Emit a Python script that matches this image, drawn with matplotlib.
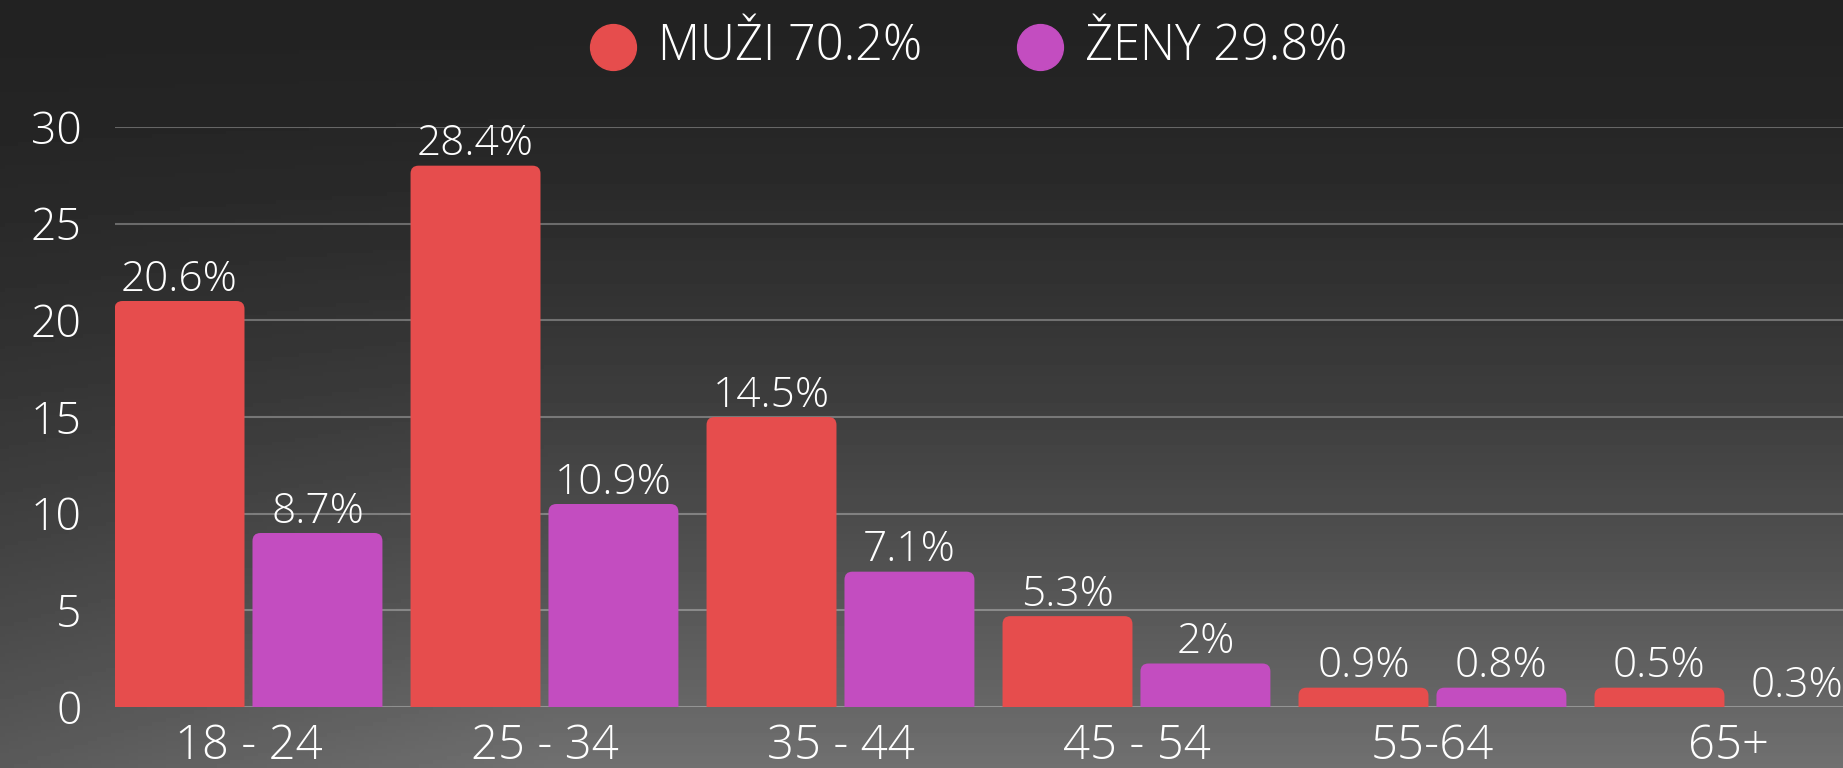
import matplotlib.pyplot as plt
import numpy as np
from matplotlib.lines import Line2D
from matplotlib.patches import FancyBboxPatch

groups = ['18 - 24', '25 - 34', '35 - 44', '45 - 54', '55-64', '65+']
muzi_pct = [20.6, 28.4, 14.5, 5.3, 0.9, 0.5]
zeny_pct = [8.7, 10.9, 7.1, 2, 0.8, 0.3]
# bar heights as they are drawn in the picture
muzi_bars = [21, 28, 15, 4.7, 1, 1]
zeny_bars = [9, 10.5, 7, 2.25, 1, 0]
muzi_total = 70.2
zeny_total = 29.8
y_ticks = [0, 5, 10, 15, 20, 25, 30]

RED = '#e64d4d'
PURPLE = '#c34dc0'

plt.rcParams['font.family'] = ['Open Sans', 'DejaVu Sans']
plt.rcParams['font.weight'] = 'light'

W, H = 1843, 768
fig = plt.figure(figsize=(W / 100, H / 100), dpi=100)

# background: dark at top, lighter grey towards the bottom
bg = fig.add_axes([0, 0, 1, 1], zorder=-5)
yy, xx = np.mgrid[0:1:200j, 0:1:400j]
side = 0.72 + 0.28 * np.clip(xx / 0.3, 0, 1)
val = 34 + 78 * yy ** 1.6 * side
bg.imshow(val, cmap='gray', vmin=0, vmax=255, aspect='auto', extent=[0, 1, 0, 1])
bg.axis('off')

ax = fig.add_axes([115 / W, 1 - 707 / H, 1 - 115 / W, (707 - 127) / H])
ax.patch.set_alpha(0)

x = np.arange(len(groups))
width = 0.439
off = 0.233
px_x = 296.0
px_y = 580.0 / 30
rx = 8 / px_x
ry = 8 / px_y


def rounded_bars(xs, heights, labels, color):
    bars = ax.bar(xs, heights, width, color=color)
    for b, lab in zip(bars, labels):
        h = b.get_height()
        b.set_visible(False)
        if h > 0:
            p = FancyBboxPatch((b.get_x(), -ry), b.get_width(), h + ry,
                               boxstyle=f'round,pad=0,rounding_size={rx}',
                               mutation_aspect=ry / rx, fc=color, ec='none', zorder=3)
            ax.add_patch(p)
        ax.annotate(f'{lab:g}%', (b.get_x() + b.get_width() / 2, h),
                    xytext=(0, 7.5), textcoords='offset points',
                    ha='center', va='baseline', color='white', fontsize=30.5,
                    annotation_clip=False, zorder=4)


rounded_bars(x - off, muzi_bars, muzi_pct, RED)
rounded_bars(x + off, zeny_bars, zeny_pct, PURPLE)

ax.set_xlim(-0.451, 5.387)
ax.set_ylim(0, 30)
ax.set_yticks(y_ticks)
ax.set_xticks(x)
ax.set_xticklabels(groups)
ax.tick_params(axis='both', length=0, colors='white', labelsize=32)
ax.tick_params(axis='y', pad=24)
ax.tick_params(axis='x', pad=11, labelsize=34)
ax.grid(axis='y', color='white', alpha=0.3, linewidth=1.5)
ax.set_axisbelow(True)
for s in ax.spines.values():
    s.set_visible(False)

# legend drawn by hand
legend_items = [(613, RED, f'MUŽI {muzi_total}%'), (1040, PURPLE, f'ŽENY {zeny_total}%')]
for px, col, txt in legend_items:
    fig.add_artist(Line2D([px / W], [1 - 47 / H], marker='o', markersize=33,
                          color=col, transform=fig.transFigure))
    fig.text((px + 45) / W, 1 - 47 / H, txt, color='white', fontsize=35,
             va='center', ha='left')

fig.savefig('out.png', dpi=100)
